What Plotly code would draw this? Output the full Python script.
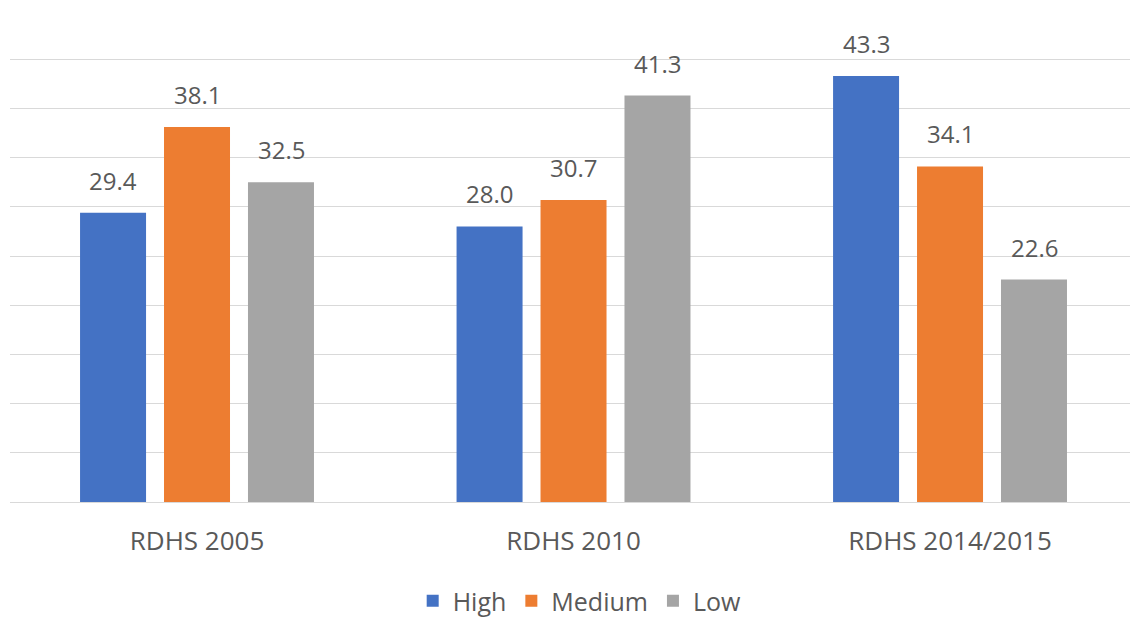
import plotly.graph_objects as go

categories = ["RDHS 2005", "RDHS 2010", "RDHS 2014/2015"]
series_names = ["High", "Medium", "Low"]
high = [29.4, 28.0, 43.3]
medium = [38.1, 30.7, 34.1]
low = [32.5, 41.3, 22.6]
colors = ["#4472C4", "#ED7D31", "#A5A5A5"]

values = [high, medium, low]
font_family = "Open Sans, DejaVu Sans, sans-serif"
txt_color = "#595959"

fig = go.Figure()
for name, vals, col in zip(series_names, values, colors):
    fig.add_trace(go.Bar(x=categories, y=vals, name=name, marker=dict(color=col, line=dict(width=0))))

# value labels above bars
slot_px = 84
for j, vals in enumerate(values):
    for cat, v in zip(categories, vals):
        fig.add_annotation(x=cat, y=v, text=f"{v:.1f}", showarrow=False,
                           xshift=(j - 1) * slot_px, yshift=14, yanchor="bottom",
                           font=dict(size=24, color=txt_color, family=font_family))

fig.update_layout(
    width=1130, height=619,
    margin=dict(l=10, r=0, t=10, b=117),
    paper_bgcolor="white", plot_bgcolor="white",
    barmode="group", bargap=0.331, bargroupgap=0.214,
    font=dict(family=font_family, color=txt_color, size=24),
    showlegend=True,
    legend=dict(orientation="h", xref="container", yref="container", x=0.513, y=0.029,
                xanchor="center", yanchor="middle", font=dict(size=25, color=txt_color),
                itemwidth=30, traceorder="normal"),
    xaxis=dict(range=[-0.4967, 2.478], showgrid=False, showline=False, ticks="",
               ticklabelstandoff=21, tickfont=dict(size=26, color=txt_color)),
    yaxis=dict(range=[0, 50], dtick=5, showgrid=True, gridcolor="#D9D9D9", gridwidth=1,
               showticklabels=False, zeroline=True, zerolinecolor="#D9D9D9", zerolinewidth=1,
               showline=False),
)

fig.write_html("out.html")
